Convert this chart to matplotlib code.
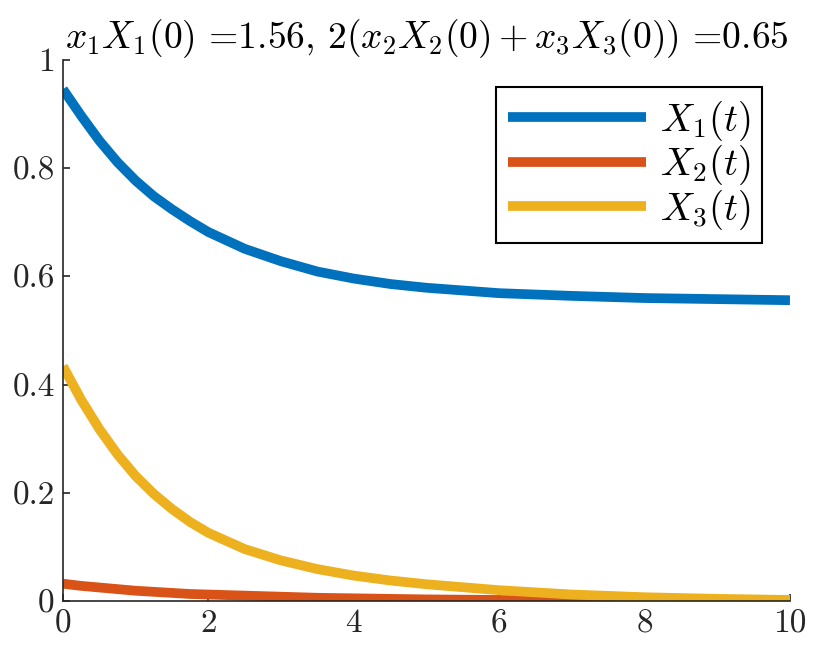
import matplotlib
matplotlib.use('Agg')
import matplotlib.pyplot as plt

matplotlib.rcParams['font.family'] = 'serif'
matplotlib.rcParams['font.serif'] = ['cmr10']
matplotlib.rcParams['mathtext.fontset'] = 'cm'
matplotlib.rcParams['axes.formatter.use_mathtext'] = True

# values
t = [0, 0.25, 0.5, 0.75, 1, 1.25, 1.5, 1.75, 2, 2.5, 3, 3.5, 4, 4.5, 5, 6, 7, 8, 9, 10]
x1 = [0.946, 0.897, 0.851, 0.811, 0.777, 0.748, 0.724, 0.702, 0.682, 0.651, 0.628, 0.609, 0.596, 0.586,
      0.579, 0.569, 0.564, 0.560, 0.558, 0.556]
x2 = [0.032, 0.028, 0.025, 0.022, 0.019, 0.017, 0.015, 0.013, 0.012, 0.010, 0.008, 0.006, 0.005, 0.004,
      0.003, 0.002, 0.001, 0.001, 0.0, 0.0]
x3 = [0.434, 0.372, 0.318, 0.271, 0.231, 0.198, 0.170, 0.146, 0.126, 0.096, 0.075, 0.059, 0.047, 0.038,
      0.031, 0.020, 0.012, 0.007, 0.004, 0.002]

colors = ['#0072BD', '#D95319', '#EDB120']
labels = ['$X_1(t)$', '$X_2(t)$', '$X_3(t)$']

fig = plt.figure(figsize=(8.22, 6.57), dpi=100)
ax = fig.add_axes([0.0766, 0.0852, 0.8844, 0.8235])

for y, c, lab in zip([x1, x2, x3], colors, labels):
    ax.plot(t, y, color=c, linewidth=7, label=lab, solid_capstyle='butt', solid_joinstyle='round')

ax.set_xlim(0, 10)
ax.set_ylim(0, 1)
ax.set_xticks([0, 2, 4, 6, 8, 10])
ax.set_yticks([0, 0.2, 0.4, 0.6, 0.8, 1])
ax.set_xticklabels(['0', '2', '4', '6', '8', '10'])
ax.set_yticklabels(['0', '0.2', '0.4', '0.6', '0.8', '1'])
ax.spines['top'].set_visible(False)
ax.spines['right'].set_visible(False)
for s in ['left', 'bottom']:
    ax.spines[s].set_color('#262626')
    ax.spines[s].set_linewidth(1.2)
ax.tick_params(direction='in', length=5, width=1.2, colors='#262626', labelsize=24, pad=6)

ax.set_title('$x_1X_1(0)$ =1.56, $2(x_2X_2(0)+x_3X_3(0))$ =0.65', fontsize=27, pad=8)

leg = ax.legend(loc='upper right', bbox_to_anchor=(0.9615, 0.950), borderaxespad=0, fontsize=28,
                fancybox=False, edgecolor='black', framealpha=1, handlelength=3.55, labelspacing=0.0,
                borderpad=0.3, handletextpad=0.35)
leg.get_frame().set_linewidth(1.5)

plt.savefig('out.png', dpi=100)
